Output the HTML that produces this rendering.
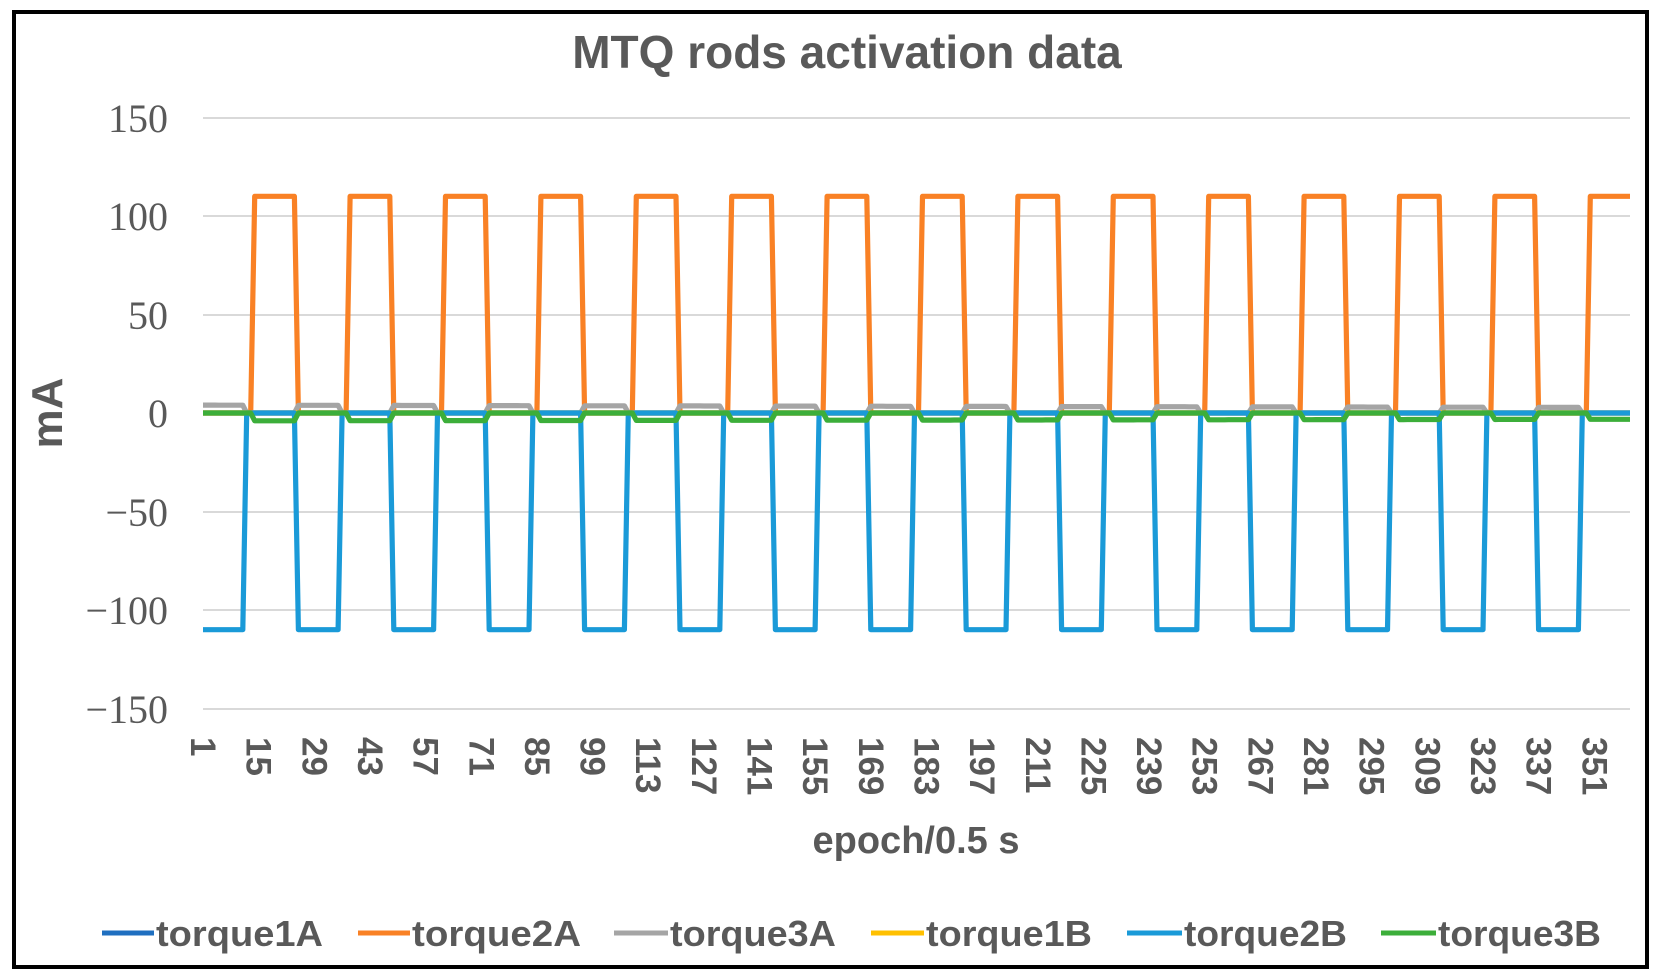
<!DOCTYPE html>
<html><head><meta charset="utf-8"><style>
html,body{margin:0;padding:0;background:#fff}
svg{display:block}
</style></head><body>
<svg id="s" width="1661" height="980" viewBox="0 0 1661 980" xmlns="http://www.w3.org/2000/svg">
<rect x="0" y="0" width="1661" height="980" fill="#fff"/>
<rect x="14" y="12" width="1633" height="955" fill="#fff" stroke="#000" stroke-width="4"/>
<text x="847" y="68" text-anchor="middle" font-family="Liberation Sans, sans-serif" font-weight="bold" font-size="46" fill="#595959">MTQ rods activation data</text>
<g stroke="#d9d9d9" stroke-width="2">
<line x1="203" x2="1630" y1="118" y2="118"/><line x1="203" x2="1630" y1="216" y2="216"/>
<line x1="203" x2="1630" y1="315" y2="315"/><line x1="203" x2="1630" y1="413" y2="413"/>
<line x1="203" x2="1630" y1="512" y2="512"/><line x1="203" x2="1630" y1="610" y2="610"/>
<line x1="203" x2="1630" y1="709" y2="709"/>
</g>
<g font-family="Liberation Serif, serif" font-size="40" fill="#595959" text-anchor="end">
<text x="168" y="132">150</text><text x="168" y="230">100</text><text x="168" y="329">50</text>
<text x="168" y="427">0</text><text x="168" y="526">−50</text><text x="168" y="624">−100</text><text x="168" y="723">−150</text>
</g>
<text transform="translate(62,413) rotate(-90)" text-anchor="middle" font-family="Liberation Sans, sans-serif" font-weight="bold" font-size="44" fill="#595959">mA</text>
<g id="xl" font-family="Liberation Sans, sans-serif" font-weight="bold" font-size="35" fill="#595959"></g>
<text x="916" y="853" text-anchor="middle" font-family="Liberation Sans, sans-serif" font-weight="bold" font-size="38" fill="#595959">epoch/0.5 s</text>
<g id="series" fill="none" stroke-width="5.2" stroke-linejoin="round"></g>
<g font-family="Liberation Sans, sans-serif" font-weight="bold" font-size="36" fill="#595959" stroke-width="5">
<line x1="102" x2="154" y1="933" y2="933" stroke="#1f6fc0"/><text x="156" y="946" textLength="167" lengthAdjust="spacingAndGlyphs">torque1A</text>
<line x1="358" x2="410" y1="933" y2="933" stroke="#f98125"/><text x="412" y="946" textLength="169" lengthAdjust="spacingAndGlyphs">torque2A</text>
<line x1="614" x2="668" y1="933" y2="933" stroke="#a5a5a5"/><text x="670" y="946" textLength="166" lengthAdjust="spacingAndGlyphs">torque3A</text>
<line x1="871" x2="924" y1="933" y2="933" stroke="#ffc000"/><text x="926" y="946" textLength="166" lengthAdjust="spacingAndGlyphs">torque1B</text>
<line x1="1127" x2="1182" y1="933" y2="933" stroke="#1a9ad8"/><text x="1184" y="946" textLength="163" lengthAdjust="spacingAndGlyphs">torque2B</text>
<line x1="1381" x2="1436" y1="933" y2="933" stroke="#3cae3a"/><text x="1438" y="946" textLength="163" lengthAdjust="spacingAndGlyphs">torque3B</text>
</g>
</svg>
<script>
(function(){
var NS="http://www.w3.org/2000/svg";
function X(e){return 203+(e-1)*3.975;}
function Y(v){return 413-1.97*v;}
var xl=document.getElementById('xl');
for(var e=1;e<=351;e+=14){
 var t=document.createElementNS(NS,'text');
 var x=X(e);
 t.setAttribute('transform','translate('+(x-12)+',737) rotate(90)');
 t.textContent=String(e);
 xl.appendChild(t);
}
var N=360;
function f1A(e){return 0;}
function f2A(e){var m=(e-1)%24;return (m>=13&&m<=23)?110:0;}
function f3A(e){var m=(e-1)%24;return (m<=10)?(4-1.2*e/N):0;}
function f1B(e){return 0;}
function f2B(e){var m=(e-1)%24;return (m<=10)?-110:0;}
function f3B(e){var m=(e-1)%24;return (m>=13&&m<=23)?-(4-0.8*e/N):0;}
var S=[[f1A,'#1f6fc0'],[f2A,'#f98125'],[f3A,'#a5a5a5'],[f1B,'#ffc000'],[f2B,'#1a9ad8'],[f3B,'#3cae3a']];
var g=document.getElementById('series');
S.forEach(function(s){
 var d='';
 for(var e=1;e<=N;e++){d+=(e==1?'M':'L')+X(e).toFixed(1)+' '+Y(s[0](e)).toFixed(1);}
 var p=document.createElementNS(NS,'path');
 p.setAttribute('d',d);p.setAttribute('stroke',s[1]);
 g.appendChild(p);
});
})();
</script>
</body></html>
